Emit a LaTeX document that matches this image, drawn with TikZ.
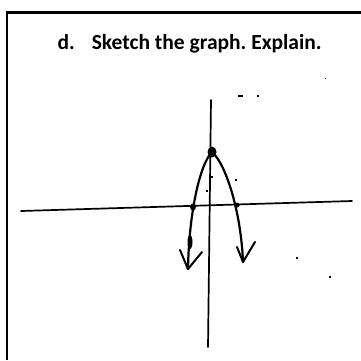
\documentclass[tikz,border=0pt]{standalone}
\usepackage{fontspec}
\setmainfont{Carlito}
\usetikzlibrary{positioning}

\begin{document}
\frenchspacing
\begin{tikzpicture}[
    x=1pt, y=-1pt,
    every node/.style={font=\bfseries},
]

% ---------------------------------------------------------------- colours
\definecolor{ink}{HTML}{000000}     % the pen, and the frame
\definecolor{paper}{HTML}{FFFFFF}

% ---------------------------------------------------------------- styles
\tikzset{
    frame/.style={ink, line width=2.2pt},
    axisline/.style={ink, line width=1.7pt, line cap=round},
    curve/.style={ink, line width=2.2pt, line cap=round, line join=round},
    barb/.style={ink, line width=2pt, line cap=round, line join=round},
    speck/.style={fill=ink, inner sep=0pt},
}

% page is 361 x 360, y runs downwards
\useasboundingbox[fill=paper] (0, 0) rectangle (361, 360);

% ----------------------------------------------------------------------
% the frame: only the top and the left edge are on the page
% ----------------------------------------------------------------------
\draw[frame] (7, 360) -- (7, 12.5) -- (361, 12.5);

\node[font=\fontsize{21.5}{26}\selectfont\bfseries, anchor=base west]
    (task) at (54, 49) {d.\hspace{17pt}Sketch the graph. Explain.};

% ----------------------------------------------------------------------
% the axes, drawn by hand
% ----------------------------------------------------------------------
\coordinate (yTop) at (211, 100);
\coordinate (yBot) at (208, 347);
\coordinate (xLeft) at (21, 211);
\coordinate (xRight) at (352, 201);

\draw[axisline] (yTop) -- (yBot);
\draw[axisline] (xLeft) -- (xRight);

% ----------------------------------------------------------------------
% the parabola, opening down
% ----------------------------------------------------------------------
\coordinate (vertex) at (212, 152);
\coordinate (leftEnd) at (188, 269);
\coordinate (rightEnd) at (243, 262);

\draw[curve] (vertex) .. controls (200, 164) and (189, 212) .. (leftEnd);
\draw[curve] (vertex) .. controls (226, 164) and (241, 212) .. (rightEnd);

% the heavy dot at the top, and where the left arm crosses
\fill[ink] (vertex) ellipse (4.5 and 5.5);
\fill[ink] (193, 207) ellipse (3 and 3.5);
\fill[ink] (237, 205) circle (2.5);
\fill[ink] (190, 242) ellipse (2.5 and 7);

% open arrow heads
\draw[barb] (180, 250) -- (leftEnd) -- (202, 252);
\draw[barb] (237, 247) -- (rightEnd) -- (255, 242);

% small pen marks on the page
\node[speck, minimum width=5pt, minimum height=1.5pt] (m1) at (240, 96) {};
\node[speck, minimum width=1.5pt, minimum height=1.5pt] (m2) at (258, 96) {};
\node[speck, minimum width=1pt, minimum height=1pt] (m3) at (325, 78) {};
\node[speck, minimum width=1.5pt, minimum height=1.5pt] (m4) at (297, 258) {};
\node[speck, minimum width=1.5pt, minimum height=1.5pt] (m5) at (330, 277) {};
\node[speck, minimum width=2pt, minimum height=2pt] (m6) at (212, 177) {};
\node[speck, minimum width=2pt, minimum height=2pt] (m7) at (207, 191) {};
\node[speck, minimum width=1.5pt, minimum height=1.5pt] (m8) at (236, 180) {};

\end{tikzpicture}
\end{document}
